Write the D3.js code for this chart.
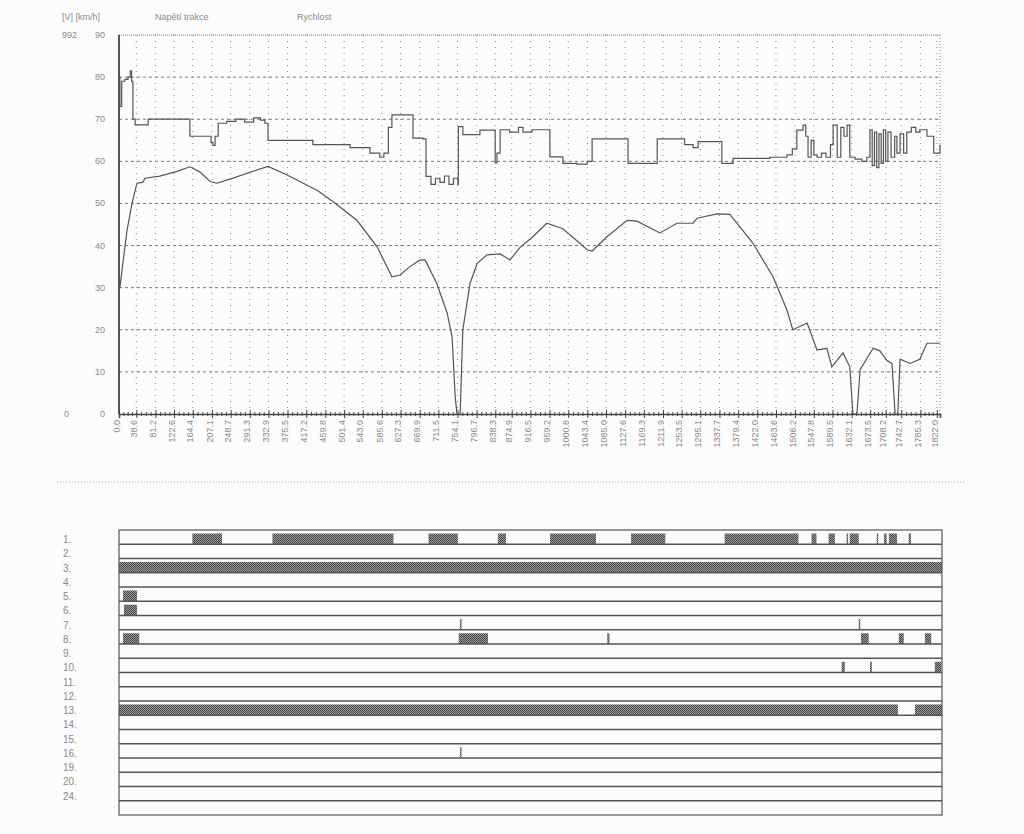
<!DOCTYPE html>
<html><head><meta charset="utf-8">
<script src="https://cdn.jsdelivr.net/npm/d3@7"></script>
<style>
html,body{margin:0;padding:0;background:#fcfcfc;}
svg{display:block;font-family:"Liberation Sans",Arial,sans-serif;}
</style></head>
<body>
<svg id="c" width="1024" height="834"></svg>
<script>
// ---------- DATA ----------
const seriesNames = ["Napětí trakce", "Rychlost"];
const distTicks = [0.0, 38.6, 81.2, 122.6, 164.4, 207.1, 248.7, 291.3, 332.9, 375.5, 417.2, 459.8, 501.4, 543.0, 585.6, 627.3, 669.9, 711.5, 754.1, 796.7, 838.3, 874.9, 916.5, 959.2, 1000.8, 1043.4, 1085.0, 1127.6, 1169.3, 1211.9, 1253.5, 1295.1, 1337.7, 1379.4, 1422.0, 1463.6, 1506.2, 1547.8, 1589.5, 1632.1, 1673.5, 1708.2, 1742.7, 1785.3, 1822.0];
const speedTicks = [0, 10, 20, 30, 40, 50, 60, 70, 80, 90];
// traction voltage [V] : [distance, volts]
const voltage = [[0,882],[2,805],[6,871],[13,876],[20,882],[25,898],[28,871],[31,772],[36,757],[65,772],[158,727],[205,711],[209,703],[214,727],[221,761],[240,766],[260,772],[280,764],[300,775],[315,769],[325,761],[332,716],[432,705],[515,697],[559,683],[581,672],[590,683],[600,750],[608,783],[653,783],[655,722],[677,720],[684,622],[695,601],[705,617],[715,606],[725,623],[735,601],[745,617],[755,601],[756,752],[766,731],[804,743],[836,743],[838,657],[842,683],[849,744],[870,738],[890,750],[900,738],[920,744],[953,744],[960,673],[989,656],[1020,654],[1043,661],[1054,720],[1132,720],[1134,656],[1194,656],[1199,720],[1250,720],[1260,705],[1279,697],[1290,713],[1339,713],[1343,656],[1368,669],[1450,672],[1488,678],[1500,694],[1510,743],[1524,756],[1530,727],[1535,672],[1542,716],[1548,678],[1555,672],[1565,683],[1575,672],[1585,705],[1591,756],[1600,672],[1608,750],[1615,727],[1622,756],[1628,672],[1640,667],[1655,661],[1666,672],[1673,744],[1678,650],[1683,738],[1688,645],[1693,733],[1698,656],[1703,744],[1708,661],[1713,738],[1720,672],[1728,727],[1733,683],[1740,733],[1748,683],[1755,738],[1765,750],[1775,738],[1784,744],[1800,727],[1815,683],[1829,705]];
// speed [km/h] : [distance, km/h]
const speed = [[0,30],[2,30],[10,37],[18,43.7],[29,50],[40,54.8],[53,55],[58,56],[91,56.5],[129,57.6],[158,58.7],[180,57.5],[203,55.2],[218,54.8],[254,56],[292,57.4],[332,58.8],[370,57],[403,55.2],[443,53],[477,50.4],[530,46],[575,39.7],[608,32.6],[626,33],[648,35],[671,36.6],[682,36.6],[708,31],[731,24],[742,18.4],[749,4],[753,0],[760,0],[766,20],[782,31],[798,35.8],[820,37.8],[849,38],[871,36.6],[893,39.5],[922,42.1],[953,45.3],[989,44],[1016,41.5],[1043,39],[1054,38.7],[1087,42.1],[1132,46],[1154,45.8],[1205,43],[1243,45.3],[1279,45.3],[1288,46.5],[1332,47.5],[1361,47.4],[1412,40.6],[1457,32.6],[1488,24.7],[1501,20],[1533,21.6],[1555,15.2],[1577,15.6],[1588,11.2],[1613,14.5],[1628,11.2],[1635,0],[1644,0],[1651,10.5],[1680,15.6],[1695,15],[1711,12.7],[1722,12],[1729,0],[1735,0],[1740,13],[1762,12],[1784,13],[1800,16.8],[1829,16.8]];
// binary signals: row labels and active intervals [from, to] in distance
const signalLabels = ["1.","2.","3.","4.","5.","6.","7.","8.","9.","10.","11.","12.","13.","14.","15.","16.","19.","20.","24."];
const signalIntervals = [
  [[163,229],[341,610],[688,753],[842,860],[958,1060],[1138,1214],[1346,1510],[1539,1550],[1577,1591],[1617,1620],[1624,1644],[1684,1687],[1700,1706],[1711,1729],[1755,1760]],
  [],
  [[0,1829]],
  [],
  [[9,40]],
  [[11,40]],
  [[758,760],[1644,1647]],
  [[9,45],[755,820],[1085,1090],[1649,1666],[1733,1744],[1791,1805]],
  [],
  [[1606,1613],[1669,1673],[1813,1827]],
  [],
  [],
  [[0,1731],[1769,1829]],
  [],
  [],
  [[758,760]],
  [],
  [],
  []
];

// ---------- LAYOUT ----------
const svg = d3.select("#c");
const L = 119, R = 940, T = 35, B = 414;
const x = d3.scaleLinear().domain([0, 1829]).range([L, R]);
const yS = d3.scaleLinear().domain([0, 90]).range([B, T]);
const yV = d3.scaleLinear().domain([0, 992]).range([B, T]);
const txt = "#8a8a8a";

// checker pattern
const defs = svg.append("defs");
const pat = defs.append("pattern").attr("id","chk").attr("width",2).attr("height",2).attr("patternUnits","userSpaceOnUse");
pat.append("rect").attr("width",2).attr("height",2).attr("fill","#9c9c9c");
pat.append("rect").attr("width",1).attr("height",1).attr("fill","#444");
pat.append("rect").attr("x",1).attr("y",1).attr("width",1).attr("height",1).attr("fill","#444");

// header
svg.append("text").attr("x",62).attr("y",20).attr("font-size",9).attr("fill",txt).text("[V] [km/h]");
svg.append("text").attr("x",155).attr("y",20).attr("font-size",9).attr("fill",txt).text(seriesNames[0]);
svg.append("text").attr("x",297).attr("y",20).attr("font-size",9).attr("fill",txt).text(seriesNames[1]);

// grid
const g = svg.append("g");
g.selectAll(".hg").data(speedTicks.filter(d=>d>0 && d<90)).join("line")
  .attr("x1",L).attr("x2",R).attr("y1",d=>yS(d)).attr("y2",d=>yS(d))
  .attr("stroke","#777").attr("stroke-width",1).attr("stroke-dasharray","3,3");
g.selectAll(".vg").data(distTicks.slice(1)).join("line")
  .attr("x1",d=>x(d)).attr("x2",d=>x(d)).attr("y1",T).attr("y2",B)
  .attr("stroke","#888").attr("stroke-width",1).attr("stroke-dasharray","1,5");
// top & right dotted borders
g.append("line").attr("x1",L).attr("x2",R).attr("y1",T).attr("y2",T).attr("stroke","#777").attr("stroke-dasharray","1,1");
g.append("line").attr("x1",R).attr("x2",R).attr("y1",T).attr("y2",B).attr("stroke","#888").attr("stroke-dasharray","1,2");

// y axis labels
svg.selectAll(".ys").data(speedTicks).join("text")
  .attr("x",105).attr("y",d=>yS(d)+3).attr("text-anchor","end")
  .attr("font-size",9).attr("fill",txt).text(d=>d);
svg.append("text").attr("x",62).attr("y",yV(992)+3).attr("font-size",9).attr("fill",txt).text(yV.domain()[1]);
svg.append("text").attr("x",64).attr("y",yV(0)+3).attr("font-size",9).attr("fill",txt).text(yV.domain()[0]);

// x axis minor ticks
const minor = [];
for (let i = 0; i < distTicks.length - 1; i++) {
  for (let k = 1; k < 4; k++) minor.push(distTicks[i] + (distTicks[i+1]-distTicks[i])*k/4);
}
svg.append("g").attr("transform",`translate(0,${B})`)
  .call(d3.axisBottom(x).tickValues(minor).tickSize(2).tickFormat(""))
  .call(s=>s.select(".domain").remove())
  .call(s=>s.selectAll("line").attr("stroke","#555").attr("y1",-2));
const xa = svg.append("g").attr("transform",`translate(0,${B})`)
  .call(d3.axisBottom(x).tickValues(distTicks).tickSize(4).tickFormat(d=>d.toFixed(1)));
xa.select(".domain").attr("stroke","#444").attr("stroke-width",1.6);
xa.selectAll(".tick line").attr("stroke","#444").attr("y1",-4);
xa.selectAll(".tick text").attr("fill",txt).attr("font-size",9)
  .attr("transform","rotate(-90)").attr("text-anchor","end")
  .attr("x",-6).attr("y",-3).attr("dy","0.35em");
// y axis line
svg.append("line").attr("x1",L).attr("x2",L).attr("y1",T).attr("y2",B).attr("stroke","#444").attr("stroke-width",1.8);

// lines
svg.append("path").datum(voltage)
  .attr("d", d3.line().x(d=>x(d[0])).y(d=>yV(d[1])).curve(d3.curveStepAfter))
  .attr("fill","none").attr("stroke","#555").attr("stroke-width",1.2);
svg.append("path").datum(speed)
  .attr("d", d3.line().x(d=>x(d[0])).y(d=>yS(d[1])))
  .attr("fill","none").attr("stroke","#555").attr("stroke-width",1.2);

// separator
svg.append("line").attr("x1",57).attr("x2",965).attr("y1",482).attr("y2",482)
  .attr("stroke","#aaa").attr("stroke-dasharray","1,2");

// ---------- SIGNAL CHART ----------
const BT = 530, BB = 815, BR = 942;
const xs = d3.scaleLinear().domain([0, 1829]).range([L, BR]);
const rowIdx = d3.range(signalLabels.length + 1);
const yr = d3.scaleBand().domain(rowIdx).range([BT, BB]);
const sg = svg.append("g");
signalIntervals.forEach((ivs, i) => {
  sg.selectAll(null).data(ivs).join("rect")
    .attr("x", d=>xs(d[0])).attr("width", d=>Math.max(1.5, xs(d[1])-xs(d[0])))
    .attr("y", yr(i)+3.5).attr("height", yr.bandwidth()-3.5)
    .attr("fill","url(#chk)");
});
sg.selectAll(".sep").data(rowIdx.slice(1)).join("line")
  .attr("x1",L).attr("x2",BR).attr("y1",d=>yr(d)).attr("y2",d=>yr(d))
  .attr("stroke","#555").attr("stroke-width",1.4);
sg.append("rect").attr("x",L).attr("y",BT).attr("width",BR-L).attr("height",BB-BT)
  .attr("fill","none").attr("stroke","#555").attr("stroke-width",1.2);
sg.selectAll(".lbl").data(signalLabels).join("text")
  .attr("x",63).attr("y",(d,i)=>yr(i)+yr.bandwidth()/2+6)
  .attr("font-size",10).attr("fill",txt).text(d=>d);
</script>
</body></html>
